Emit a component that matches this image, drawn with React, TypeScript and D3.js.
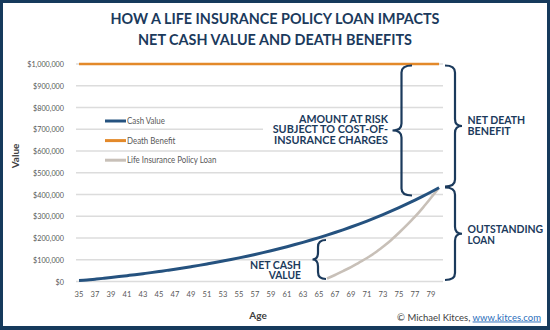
import React from "react";
import * as d3 from "d3";

const ages = [35,36,37,38,39,40,41,42,43,44,45,46,47,48,49,50,51,52,53,54,55,56,57,58,59,60,61,62,63,64,65,66,67,68,69,70,71,72,73,74,75,76,77,78,79,80];
const cashValue = [5000,7000,10600,14400,18400,22600,26900,31300,36000,40800,45900,51100,56500,62200,68100,74200,80600,87200,94100,101200,108700,116400,124500,132900,141600,150700,160100,169900,180100,190700,201700,213200,225100,237500,250400,263800,277800,292300,307400,323100,339400,356400,374000,392400,411500,431400];
const deathBenefit = ages.map(() => 1000000);
const loanAges = [66,67,68,69,70,71,72,73,74,75,76,77,78,79,80];
const loanValues = [14000,30000,48000,66000,87000,108000,132000,160000,190000,224000,260000,298000,340000,385000,431000];
const yTicks = [0,100000,200000,300000,400000,500000,600000,700000,800000,900000,1000000];
const xTickLabels = [35,37,39,41,43,45,47,49,51,53,55,57,59,61,63,65,67,69,71,73,75,77,79];
const legendItems = ["Cash Value", "Death Benefit", "Life Insurance Policy Loan"];
const titleLines = ["HOW A LIFE INSURANCE POLICY LOAN IMPACTS", "NET CASH VALUE AND DEATH BENEFITS"];

const NAVY = "#1b3a5c";
const BLUE = "#25527f";
const ORANGE = "#e3892a";
const GRAY = "#c8c0b8";
const colors = [BLUE, ORANGE, GRAY];
const TICK = "#595959";

function brace(xv: number, y1: number, y2: number, xt: number, xe: number) {
  const ym = (y1 + y2) / 2;
  const r = 7;
  return `M${xe},${y1} Q${xv},${y1} ${xv},${y1 + r} L${xv},${ym - r} Q${xv},${ym} ${xt},${ym} Q${xv},${ym} ${xv},${ym + r} L${xv},${y2 - r} Q${xv},${y2} ${xe},${y2}`;
}

type Note = { t: string; x: number; y: number; w: number; end?: boolean };
const notes: Note[] = [
  { t: "AMOUNT AT RISK", x: 388, y: 123, w: 89, end: true },
  { t: "SUBJECT TO COST-OF-", x: 388, y: 133.3, w: 115.3, end: true },
  { t: "INSURANCE CHARGES", x: 388, y: 143.6, w: 114, end: true },
  { t: "NET CASH", x: 301, y: 269, w: 51, end: true },
  { t: "VALUE", x: 301, y: 279, w: 32.3, end: true },
  { t: "NET DEATH", x: 467.5, y: 124, w: 57.7 },
  { t: "BENEFIT", x: 467.5, y: 134.5, w: 43.3 },
  { t: "OUTSTANDING", x: 467.5, y: 233, w: 75.7 },
  { t: "LOAN", x: 467.5, y: 243.5, w: 27.3 },
];

export default function App() {
  const x = d3.scalePoint<number>().domain(ages).range([79, 439]);
  const y = d3.scaleLinear().domain([0, 1000000]).range([281.5, 64]);
  const fmt = (v: number) => "$" + d3.format(",")(v);
  const line = d3.line<[number, number]>().x(d => x(d[0])!).y(d => y(d[1])).curve(d3.curveMonotoneX);
  const cashPts = ages.map((a, i) => [a, cashValue[i]] as [number, number]);
  const dbPts = ages.map((a, i) => [a, deathBenefit[i]] as [number, number]);
  const loanPts = loanAges.map((a, i) => [a, loanValues[i]] as [number, number]);
  const font = "Lato, 'Open Sans', sans-serif";
  return (
    <svg width={550} height={330} style={{ position: "absolute", left: 0, top: 0 }} fontFamily={font}>
      <rect x={0} y={0} width={550} height={330} fill="#163a5c" />
      <rect x={3} y={3} width={544} height={323} fill="#ffffff" />
      {titleLines.map((t, i) => (
        <text key={t} x={275} y={24 + i * 20.5} textAnchor="middle" fontWeight={700} fontSize={15.5} fill={NAVY}
          textLength={i === 0 ? 329 : 274} lengthAdjust="spacingAndGlyphs">{t}</text>
      ))}
      {yTicks.map(v => (
        <g key={v}>
          <line x1={76} x2={443} y1={y(v)} y2={y(v)} stroke="#dcdcdc" strokeWidth={1.3} />
          <text transform={`translate(64,${y(v) + 3}) scale(0.86,1)`} textAnchor="end" fontSize={8.4} fill={TICK}>{fmt(v)}</text>
        </g>
      ))}
      {xTickLabels.map(a => (
        <text key={a} transform={`translate(${x(a)},297) scale(0.9,1)`} textAnchor="middle" fontSize={8.4} fill={TICK}>{a}</text>
      ))}
      <text x={258} y={319} textAnchor="middle" fontSize={10} fontWeight={700} fill="#404040">Age</text>
      <text transform="translate(19,156) rotate(-90)" textAnchor="middle" fontSize={10} fontWeight={700} fill="#404040">Value</text>
      {legendItems.map((t, i) => (
        <g key={t}>
          <line x1={105} x2={126} y1={121 + i * 19.6} y2={121 + i * 19.6} stroke={colors[i]} strokeWidth={3} />
          <text transform={`translate(127,${124 + i * 19.6}) scale(0.88,1)`} fontSize={9} fill={TICK}>{t}</text>
        </g>
      ))}
      <rect x={263} y={112} width={132} height={35} fill="#ffffff" />
      <path d={line(dbPts)!} fill="none" stroke={ORANGE} strokeWidth={2.6} />
      <path d={line(loanPts)!} fill="none" stroke={GRAY} strokeWidth={2.6} />
      <path d={line(cashPts)!} fill="none" stroke={BLUE} strokeWidth={3} />
      <g fill="none" stroke={NAVY} strokeWidth={2.2}>
        <path d={brace(318, 240, 279, 312.5, 326)} />
        <path d={brace(401.5, 65.5, 195.5, 392.5, 412)} />
        <path d={brace(455, 65.5, 186.5, 462, 445)} />
        <path d={brace(455, 187.5, 280, 462, 445)} />
      </g>
      <g fontWeight={700} fill={NAVY} fontSize={10.5}>
        {notes.map(n => (
          <text key={n.t} x={n.x} y={n.y} textAnchor={n.end ? "end" : "start"} textLength={n.w} lengthAdjust="spacingAndGlyphs">{n.t}</text>
        ))}
      </g>
      <text x={541} y={320.5} textAnchor="end" fontSize={9.5} fill="#404040">
        © Michael Kitces, <tspan fill="#2a6ebb" textDecoration="underline">www.kitces.com</tspan>
      </text>
    </svg>
  );
}
